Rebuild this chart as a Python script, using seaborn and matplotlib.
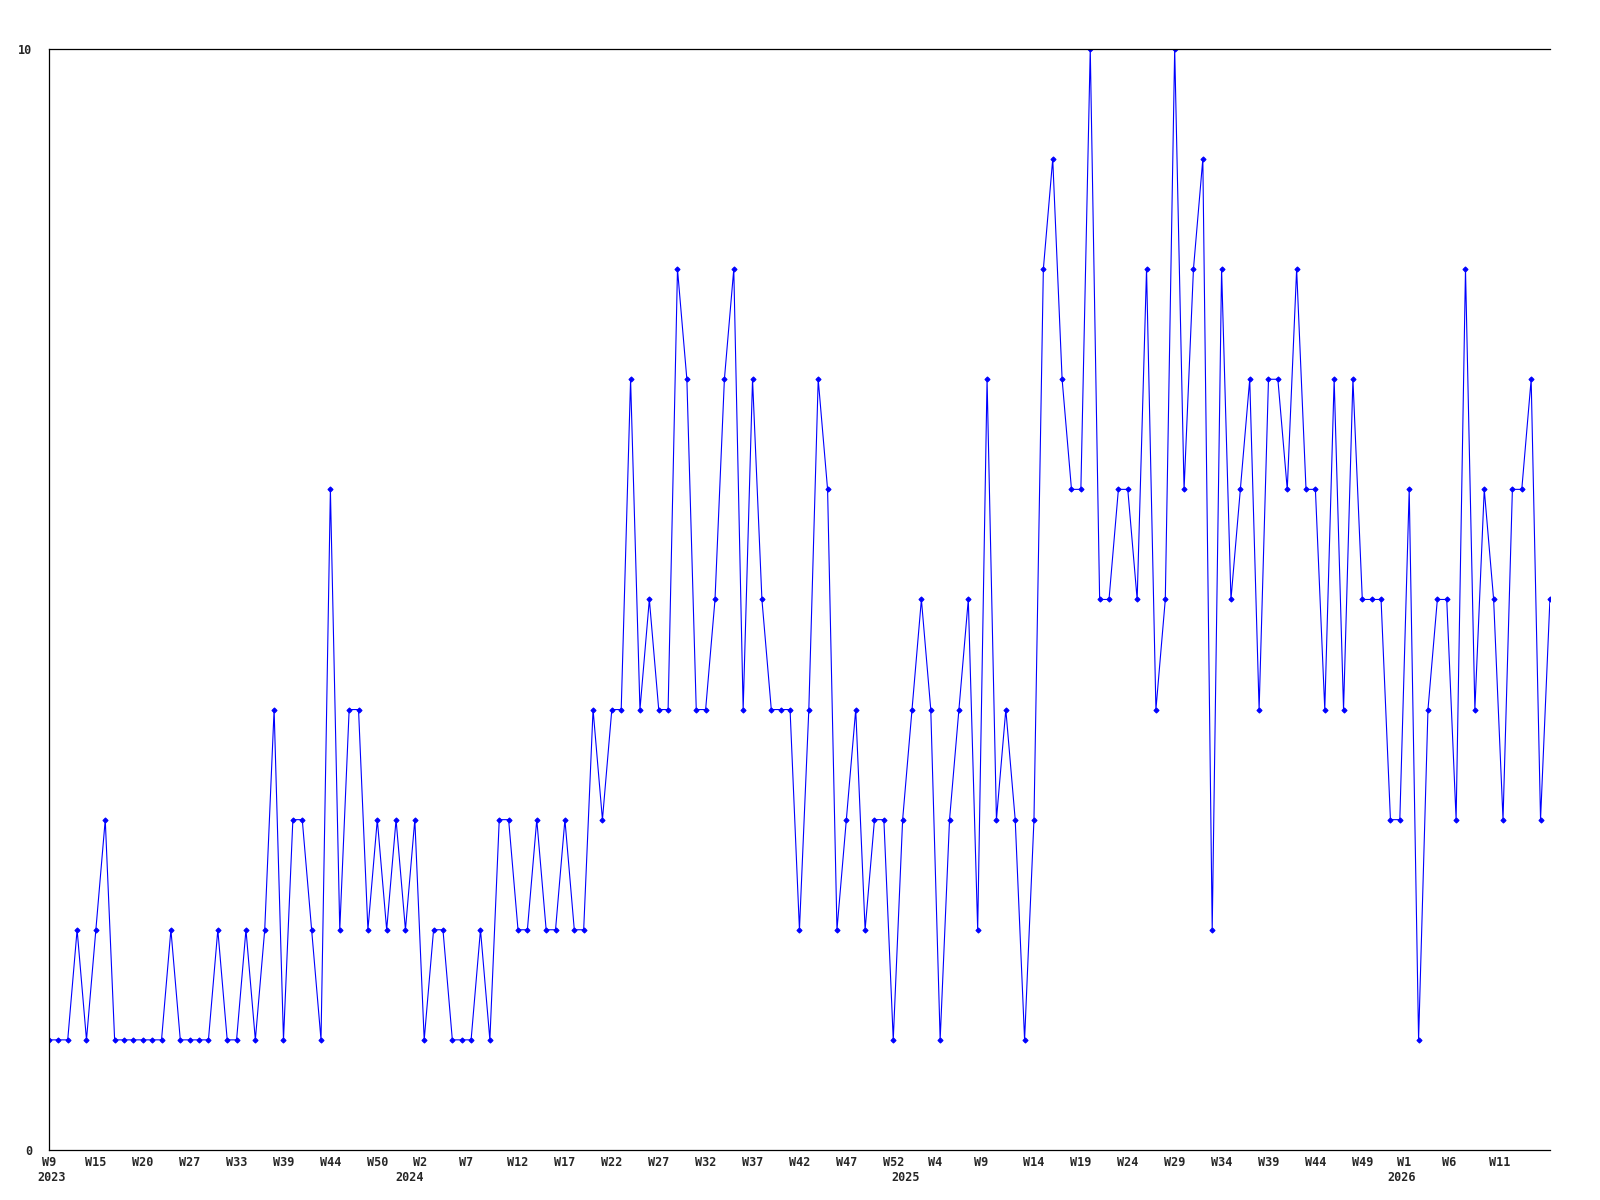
import numpy as np
import pandas as pd
import matplotlib
matplotlib.use('Agg')
import matplotlib.pyplot as plt
import seaborn as sns

# weekly counts, one point per week
values = [1,1,1,2,1,2,3,1,1,1,
          1,1,1,2,1,1,1,1,2,1,
          1,2,1,2,4,1,3,3,2,1,
          6,2,4,4,2,3,2,3,2,3,
          1,2,2,1,1,1,2,1,3,3,
          2,2,3,2,2,3,2,2,4,3,
          4,4,7,4,5,4,4,8,7,4,
          4,5,7,8,4,7,5,4,4,4,
          2,4,7,6,2,3,4,2,3,3,
          1,3,4,5,4,1,3,4,5,2,
          7,3,4,3,1,3,8,9,7,6,
          6,10,5,5,6,6,5,8,4,5,
          10,6,8,9,2,8,5,6,7,4,
          7,7,6,8,6,6,4,7,4,7,
          5,5,5,3,3,6,1,4,5,5,
          3,8,4,6,5,3,6,6,7,3,
          5]

week_labels = ['W9','W15','W20','W27','W33','W39','W44','W50','W2','W7','W12','W17',
               'W22','W27','W32','W37','W42','W47','W52','W4','W9','W14','W19','W24',
               'W29','W34','W39','W44','W49','W1','W6','W11']
year_labels = ['2023','2024','2025','2026']

# label placement along the point index axis
week_pos = [0,5,10,15,20,25,30,35,39.6,44.5,50,55,60,65,70,75,80,85,90,94.5,99.4,
            105,110,115,120,125,130,135,140,144.5,149.3,154.6]
year_pos = [0.3,38.4,91.3,144.2]

df = pd.DataFrame({'idx': np.arange(len(values)), 'count': values})

sns.set_style('white')
plt.rcParams['font.family'] = ['DejaVu Sans Mono', 'DejaVu Sans']

fig = plt.figure(figsize=(16, 12), dpi=100, facecolor='w')
ax = fig.add_axes([0.0306, 0.0417, 0.9381, 0.9175])

sns.lineplot(data=df, x='idx', y='count', ax=ax, color='#0000ff', linewidth=0.8,
             marker='D', markersize=2.6, markeredgecolor='#0000ff',
             markerfacecolor='#0000ff', estimator=None)

ax.set_xlim(0, len(values) - 1)
ax.set_ylim(0, 10)
ax.set_yticks([0, 10])
ax.set_yticklabels(['0', '10'], fontsize=8.5, fontweight='bold')
ax.set_xticks(week_pos)
ax.set_xticklabels(week_labels, fontsize=8.5, fontweight='bold')
ax.tick_params(axis='y', length=0, pad=12)
ax.tick_params(axis='x', length=0, pad=4)
ax.set_xlabel('')
ax.set_ylabel('')

for yr, xp in zip(year_labels, year_pos):
    ax.annotate(yr, xy=(xp, 0), xycoords=('data', 'axes fraction'),
                xytext=(0, -19.5), textcoords='offset points',
                ha='center', va='center', fontsize=8.5, fontweight='bold')

for side in ['left', 'bottom', 'top']:
    ax.spines[side].set_visible(True)
    ax.spines[side].set_color('black')
    ax.spines[side].set_linewidth(0.9)
ax.spines['right'].set_visible(False)

fig.savefig('out.png', dpi=100, facecolor='w')
